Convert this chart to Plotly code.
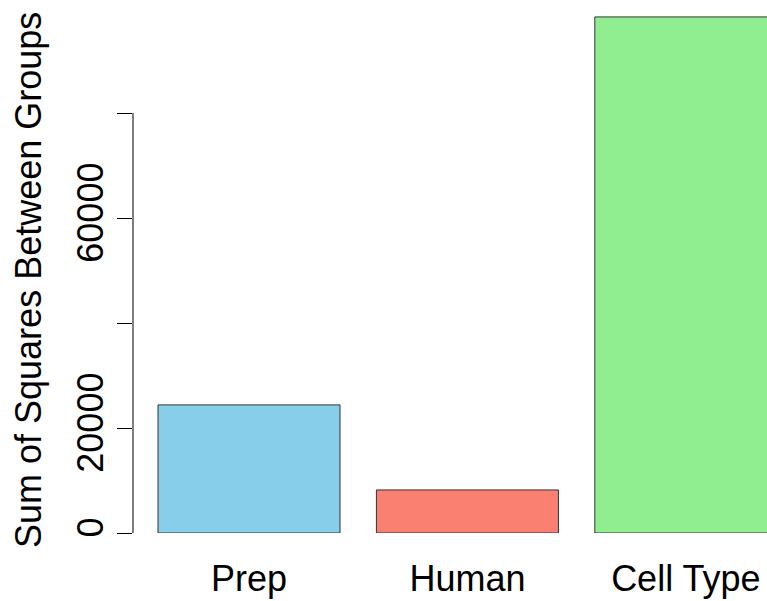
import plotly.graph_objects as go

# Sum of squares between groups for each factor
categories = ["Prep", "Human", "Cell Type"]
ss_between = [24400, 8200, 98300]
bar_colors = ["#87CEEB", "#FA8072", "#90EE90"]

# bar centres spaced like a base-R barplot (width 1, space 0.2)
positions = [0.7, 1.9, 3.1]

tick_vals = [0, 20000, 40000, 60000, 80000]
tick_text = ["0", "20000", "", "60000", ""]

y_title = "Sum of Squares Between Groups"

FONT = "Liberation Sans, Arial, sans-serif"

W, H = 767, 601
L, B = 133, 68
plot_w, plot_h = W - L, H - B

fig = go.Figure(
    go.Bar(
        x=positions,
        y=ss_between,
        width=1.0,
        marker=dict(color=bar_colors, line=dict(color="#333333", width=1)),
        hoverinfo="skip",
    )
)

fig.update_layout(
    width=W,
    height=H,
    margin=dict(l=L, r=0, t=0, b=B),
    paper_bgcolor="white",
    plot_bgcolor="white",
    font=dict(family=FONT, size=36, color="black"),
    showlegend=False,
    xaxis=dict(
        range=[0.0626, 3.546],
        tickvals=positions,
        ticktext=categories,
        tickfont=dict(size=36),
        showgrid=False,
        zeroline=False,
        showline=False,
        ticks="",
        ticklabelstandoff=21,
    ),
    yaxis=dict(
        range=[0, 101524],
        tickvals=tick_vals,
        ticktext=tick_text,
        tickfont=dict(size=36),
        tickangle=-90,
        ticks="outside",
        ticklen=15,
        tickwidth=1,
        tickcolor="black",
        showgrid=False,
        zeroline=False,
        showline=False,
    ),
    shapes=[
        dict(
            type="line",
            xref="paper",
            yref="y",
            x0=0,
            x1=0,
            y0=0,
            y1=80000,
            line=dict(color="black", width=1),
        )
    ],
    annotations=[
        dict(
            text=y_title,
            xref="paper",
            yref="paper",
            x=(29 - L) / plot_w,
            y=(plot_h - 280) / plot_h,
            xanchor="center",
            yanchor="middle",
            textangle=-90,
            showarrow=False,
            font=dict(family=FONT, size=36, color="black"),
        )
    ],
)

fig.write_html("out.html")
